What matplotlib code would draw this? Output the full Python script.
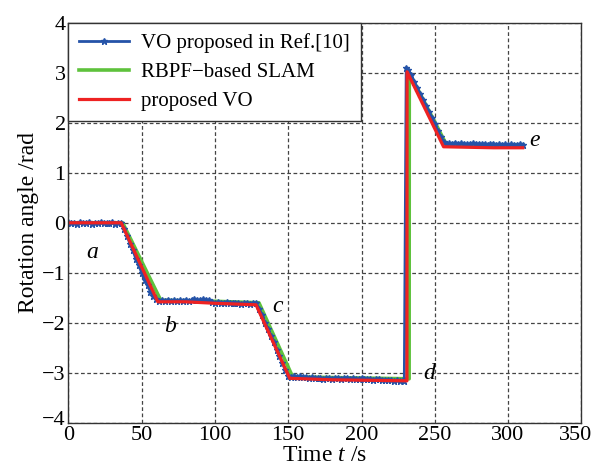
import numpy as np
import matplotlib
matplotlib.use('Agg')
import matplotlib.pyplot as plt
import matplotlib.transforms as mtransforms

plt.rcParams['font.family'] = ['Liberation Serif', 'DejaVu Serif']
plt.rcParams['mathtext.fontset'] = 'custom'
plt.rcParams['mathtext.it'] = 'Liberation Serif:italic'
plt.rcParams['mathtext.rm'] = 'Liberation Serif'

# VO proposed in Ref.[10] (blue, with markers)
blue_t = ([0, 2, 4, 6, 8, 10, 12, 14, 16, 18, 20, 22, 24, 26, 28, 30, 32, 34, 36]
          + [38, 40, 42, 44, 46, 48, 50, 52, 54, 56, 58, 60, 62]
          + list(range(64, 128, 2))
          + [128, 130, 132, 134, 136, 138, 140, 142, 144, 146, 148, 150, 152]
          + list(range(154, 230, 2))
          + [229.2, 230.5, 232, 234, 236, 238, 240, 242, 244, 246, 248, 250, 252, 254, 256, 258]
          + list(range(260, 312, 2)))
blue_y = ([0.01, -0.01, 0.0, -0.02, 0.01, -0.01, 0.0, 0.01, -0.02, 0.0, -0.01, 0.01, 0.0, -0.01, 0.0, 0.01, -0.02, 0.0, -0.01]
          + [-0.12, -0.26, -0.42, -0.55, -0.72, -0.85, -1.0, -1.14, -1.25, -1.38, -1.47, -1.53, -1.56]
          + [-1.55, -1.56, -1.54, -1.56, -1.55, -1.57, -1.55, -1.56, -1.54, -1.56, -1.55, -1.53, -1.55, -1.54, -1.53, -1.55,
             -1.54, -1.58, -1.6, -1.59, -1.61, -1.6, -1.59, -1.61, -1.6, -1.61, -1.6, -1.62, -1.61, -1.6, -1.62, -1.61]
          + [-1.61, -1.72, -1.85, -2.0, -2.12, -2.26, -2.38, -2.54, -2.66, -2.81, -2.94, -3.06, -3.09]
          + [-3.06, -3.08, -3.07, -3.09, -3.08, -3.1, -3.09, -3.1, -3.11, -3.1, -3.12, -3.1, -3.11, -3.12, -3.1, -3.11,
             -3.12, -3.11, -3.1, -3.12, -3.11, -3.12, -3.13, -3.11, -3.12, -3.13, -3.12, -3.14, -3.13, -3.12, -3.14,
             -3.15, -3.14, -3.15, -3.16, -3.15, -3.16, -3.15]
          + [-3.16, 3.1, 3.06, 2.95, 2.82, 2.7, 2.58, 2.46, 2.34, 2.22, 2.1, 1.97, 1.84, 1.72, 1.62, 1.58]
          + [1.59, 1.58, 1.6, 1.58, 1.59, 1.58, 1.57, 1.58, 1.59, 1.57, 1.58, 1.57, 1.58, 1.56, 1.57, 1.58, 1.56,
             1.57, 1.56, 1.57, 1.56, 1.57, 1.56, 1.55, 1.57, 1.56])

# RBPF-based SLAM (green)
green_t = [0, 37, 63, 100, 130, 153, 190, 232.5, 232.6, 258, 290, 310]
green_y = [0.0, 0.0, -1.55, -1.57, -1.6, -3.08, -3.1, -3.12, 3.0, 1.56, 1.56, 1.56]

# proposed VO (red)
red_t = [0, 36, 61, 80, 100, 128, 151, 180, 231.0, 231.1, 256, 290, 310]
red_y = [0.0, 0.0, -1.58, -1.58, -1.61, -1.64, -3.11, -3.14, -3.16, 3.02, 1.52, 1.5, 1.5]

labels = ['VO proposed in Ref.[10]', 'RBPF\u2212based SLAM', 'proposed VO']
notes = ['a', 'b', 'c', 'd', 'e']
note_t = [16.5, 69.5, 142.5, 246.5, 318]
note_y = [-0.6, -2.07, -1.68, -3.02, 1.65]

fig = plt.figure(figsize=(5.95, 4.74), dpi=100)
ax = fig.add_axes([0.115, 0.108, 0.862, 0.844])

lg, = ax.plot(green_t, green_y, color='#5ec23c', lw=2.6, label=labels[1])
lb, = ax.plot(blue_t, blue_y, color='#2553a8', lw=2, marker='*', ms=5, mew=1, label=labels[0])
lr, = ax.plot(red_t, red_y, color='#ee2222', lw=2.3, label=labels[2])

for s, x, y in zip(notes, note_t, note_y):
    ax.text(x, y, s, fontsize=17, style='italic', ha='center', va='center')

ax.set_xlim(0, 350)
ax.set_ylim(-4, 4)
ax.set_xticks(np.arange(0, 351, 50))
ax.set_yticks(np.arange(-4, 5, 1))
ax.tick_params(direction='in', length=0, labelsize=16, pad=2)
ax.grid(True, color='#444444', linestyle=(0, (3, 2)), linewidth=0.9)
for sp in ax.spines.values():
    sp.set_color('#333333')
    sp.set_linewidth(1)

# pull the last x label in a little so it stays on the canvas
xl = ax.get_xticklabels()
xl[-1].set_transform(xl[-1].get_transform() + mtransforms.ScaledTranslation(-6 / 100, 0, fig.dpi_scale_trans))
yl = ax.get_yticklabels()
yl[0].set_transform(yl[0].get_transform() + mtransforms.ScaledTranslation(0, 5 / 100, fig.dpi_scale_trans))

ax.set_xlabel('Time $t$ /s', fontsize=17, labelpad=0)
ax.set_ylabel('Rotation angle /rad', fontsize=17, labelpad=2)

leg = ax.legend([lb, lg, lr], labels, loc='upper left', fontsize=15, numpoints=1, borderaxespad=0,
                fancybox=False, framealpha=1, edgecolor='#333333',
                handlelength=2.4, handletextpad=0.6, labelspacing=0.45,
                borderpad=0.5)
leg.get_frame().set_linewidth(1)

fig.savefig('out.png', dpi=100)
